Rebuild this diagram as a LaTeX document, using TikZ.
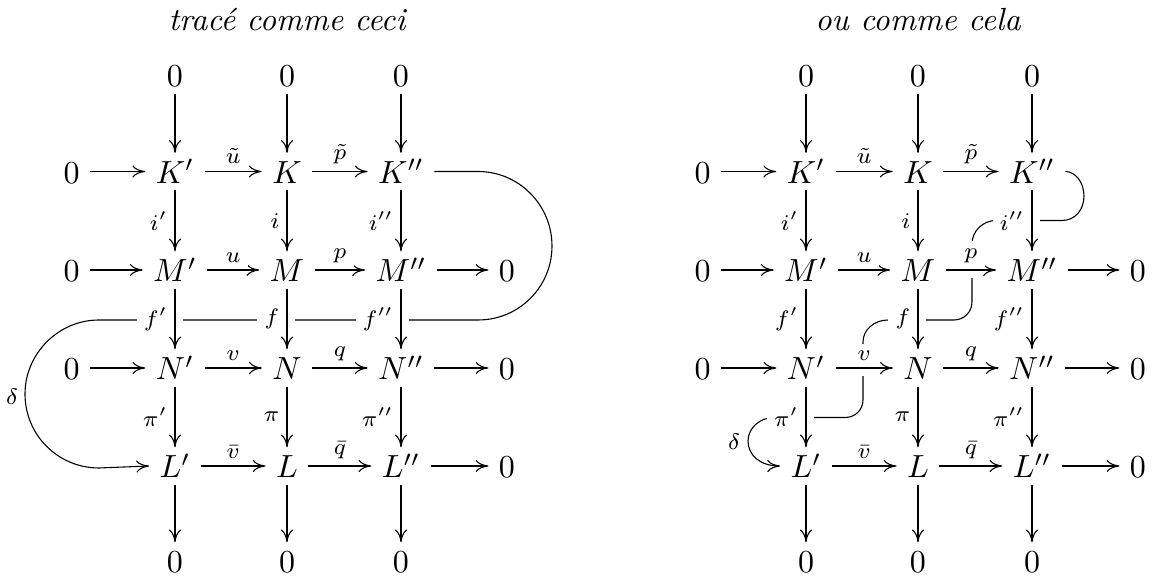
\documentclass[tikz,border=0pt]{standalone}
\usetikzlibrary{arrows.meta}
\begin{document}
\tikzset{
  obj/.style={inner xsep=3.1pt, inner ysep=1.875pt, text height=7.5pt, text depth=0pt, anchor=base},
  lab/.style={font=\scriptsize, fill=white, inner sep=2.2pt},
  ar/.style={-{Computer Modern Rightarrow[length=4pt,width=3.8pt]}, line width=0.34pt},
  gap/.style={fill=white},
  ttl/.style={anchor=base, font=\itshape},
}
\newcommand\gridnodes[1]{%
  \node[obj] (#1a1) at (175,87) {$0$};
  \node[obj] (#1a2) at (287,87) {$0$};
  \node[obj] (#1a3) at (401,87) {$0$};
  \node[obj] (#1b0) at (71.7,183.5) {$0$};
  \node[obj] (#1b1) at (175,183.5) {$K'$};
  \node[obj] (#1b2) at (287,183.5) {$K$};
  \node[obj] (#1b3) at (401,183.5) {$K''$};
  \node[obj] (#1c0) at (71.7,282) {$0$};
  \node[obj] (#1c1) at (175,282) {$M'$};
  \node[obj] (#1c2) at (287,282) {$M$};
  \node[obj] (#1c3) at (401,282) {$M''$};
  \node[obj] (#1c4) at (507,282) {$0$};
  \node[obj] (#1d0) at (71.7,380) {$0$};
  \node[obj] (#1d1) at (175,380) {$N'$};
  \node[obj] (#1d2) at (287,380) {$N$};
  \node[obj] (#1d3) at (401,380) {$N''$};
  \node[obj] (#1d4) at (507,380) {$0$};
  \node[obj] (#1e1) at (175,478) {$L'$};
  \node[obj] (#1e2) at (287,478) {$L$};
  \node[obj] (#1e3) at (401,478) {$L''$};
  \node[obj] (#1e4) at (507,478) {$0$};
  \node[obj] (#1f1) at (175,573) {$0$};
  \node[obj] (#1f2) at (287,573) {$0$};
  \node[obj] (#1f3) at (401,573) {$0$};
}
\newcommand\gridarrows[1]{%
  \draw[ar] (#1a1) -- (#1b1);
  \draw[ar] (#1a2) -- (#1b2);
  \draw[ar] (#1a3) -- (#1b3);
  \draw[ar] (#1b0) -- (#1b1);
  \draw[ar] (#1b1) -- node[lab,above]{$\tilde u$} (#1b2);
  \draw[ar] (#1b2) -- node[lab,above]{$\tilde p$} (#1b3);
  \draw[ar] (#1b1) -- node[lab,left]{$i'$} (#1c1);
  \draw[ar] (#1b2) -- node[lab,left]{$i$} (#1c2);
  \draw[ar] (#1b3) -- node[lab,left]{$i''$} (#1c3);
  \draw[ar] (#1c0) -- (#1c1);
  \draw[ar] (#1c1) -- node[lab,above]{$u$} (#1c2);
  \draw[ar] (#1c2) -- node[lab,above]{$p$} (#1c3);
  \draw[ar] (#1c3) -- (#1c4);
  \draw[ar] (#1c1) -- node[lab,left]{$f'$} (#1d1);
  \draw[ar] (#1c2) -- node[lab,left]{$f$} (#1d2);
  \draw[ar] (#1c3) -- node[lab,left]{$f''$} (#1d3);
  \draw[ar] (#1d0) -- (#1d1);
  \draw[ar] (#1d1) -- node[lab,above]{$v$} (#1d2);
  \draw[ar] (#1d2) -- node[lab,above]{$q$} (#1d3);
  \draw[ar] (#1d3) -- (#1d4);
  \draw[ar] (#1d1) -- node[lab,left]{$\pi'$} (#1e1);
  \draw[ar] (#1d2) -- node[lab,left]{$\pi$} (#1e2);
  \draw[ar] (#1d3) -- node[lab,left]{$\pi''$} (#1e3);
  \draw[ar] (#1e1) -- node[lab,above]{$\bar v$} (#1e2);
  \draw[ar] (#1e2) -- node[lab,above]{$\bar q$} (#1e3);
  \draw[ar] (#1e3) -- (#1e4);
  \draw[ar] (#1e1) -- (#1f1);
  \draw[ar] (#1e2) -- (#1f2);
  \draw[ar] (#1e3) -- (#1f3);
}
\begin{tikzpicture}[x=0.3125pt,y=-0.3125pt]
\useasboundingbox (0,0) rectangle (1152,579);
\node[ttl] (title1) at (287,31) {tracé comme ceci};
\node[ttl] (title2) at (918,31) {ou comme cela};
% nodes
\gridnodes{a}
\begin{scope}[xshift=197.1875pt]
\gridnodes{b}
\end{scope}
% left snake
\draw[ar] (ab3.east) -- (478,171.5) .. controls (519,171.5) and (552,205) .. (552,246)
  .. controls (552,287) and (519,320) .. (478,320) -- (99,320)
  .. controls (58,320) and (25,354) .. (25,394)
  .. controls (25,435) and (58,468) .. (99,468) -- (ae1.west);
\node[font=\scriptsize] (delta1) at (12,397) {$\delta$};
\fill[gap] (167,317) rectangle (183,323);
\fill[gap] (279,317) rectangle (295,323);
\fill[gap] (393,317) rectangle (409,323);
% right snake
\draw[ar] (bb3.east) .. controls (1075,171.5) and (1084,182) .. (1084,196)
  .. controls (1084,210) and (1075,220.5) .. (1062,220.5) -- (996,220.5)
  .. controls (983,220.5) and (972,231) .. (972,244) -- (972,302)
  .. controls (972,312) and (964,320) .. (954,320) -- (888,320)
  .. controls (874,320) and (863,330) .. (863,342) -- (863,400)
  .. controls (863,410) and (855,417.5) .. (845,417.5) -- (774,417.5)
  .. controls (760,417.5) and (748,428) .. (748,441)
  .. controls (748,455) and (760,466) .. (be1.west);
\node[font=\scriptsize] (delta2) at (734,442) {$\delta$};
\fill[gap] (1024,217.5) rectangle (1040,223.5);
\fill[gap] (910,317) rectangle (926,323);
\fill[gap] (798,414.5) rectangle (814,420.5);
\fill[gap] (969,262) rectangle (975,278);
\fill[gap] (860,360) rectangle (866,376);
% arrows
\gridarrows{a}
\gridarrows{b}
\end{tikzpicture}
\end{document}
